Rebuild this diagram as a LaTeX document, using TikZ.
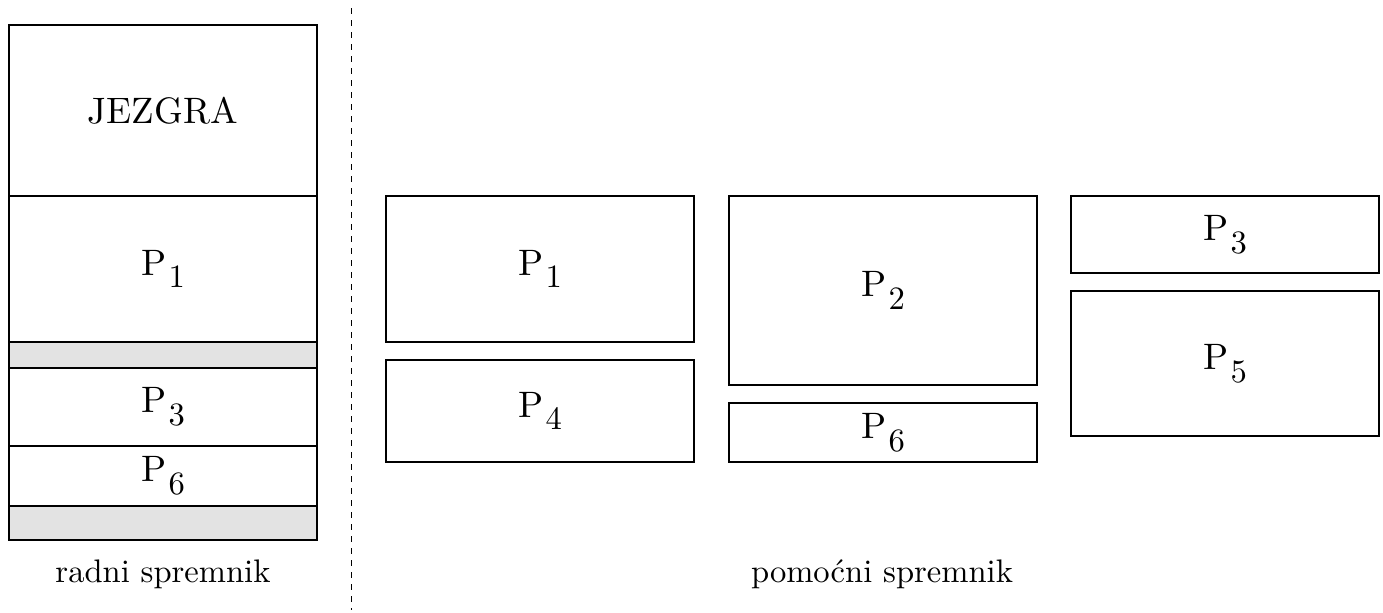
\documentclass[tikz,border=0pt]{standalone}
\newcommand\bigtxt[1]{\scalebox{1.84}{#1}}
\newcommand\captxt[1]{\scalebox{1.63}{#1}}
\newcommand\proc[1]{\bigtxt{P}\kern1.2pt\raisebox{-6.3pt}{\captxt{#1}}}
\begin{document}
\begin{tikzpicture}[x=0.5pt,y=-0.5pt,
  mem/.style={draw=black, line width=0.75pt, fill=white, anchor=north west, inner sep=0pt, outer sep=0pt, minimum width=154pt},
  freebox/.style={mem, fill=black!11},
  caption/.style={inner sep=0pt}]
\useasboundingbox (0,0) rectangle (1383,612);
% working memory column
\node[mem, minimum height=85.5pt] (jez) at (9,25) {\bigtxt{JEZGRA}};
\node[mem, minimum height=73pt] (wp1) at (9,196) {\proc{1}};
\node[freebox, minimum height=13pt] (gap1) at (9,342) {};
\node[mem, minimum height=39pt] (wp3) at (9,368) {\proc{3}};
\node[mem, minimum height=30pt] (wp6) at (9,446) {\proc{6}};
\node[freebox, minimum height=17pt] (gap2) at (9,506) {};
\node[caption] (radni) at (163,574) {\captxt{radni spremnik}};
% separator
\coordinate (s1) at (351,8);
\coordinate (s2) at (351,610);
\draw[dashed, line width=0.5pt] (s1) -- (s2);
% auxiliary memory
\node[mem, minimum height=73pt] (ap1) at (386,196) {\proc{1}};
\node[mem, minimum height=51pt] (ap4) at (386,360) {\proc{4}};
\node[mem, minimum height=94.5pt] (ap2) at (729,196) {\proc{2}};
\node[mem, minimum height=29.5pt] (ap6) at (729,403) {\proc{6}};
\node[mem, minimum height=38.5pt] (ap3) at (1071,196) {\proc{3}};
\node[mem, minimum height=72.5pt] (ap5) at (1071,291) {\proc{5}};
\node[caption] (pomocni) at (882,574) {\captxt{pomoćni spremnik}};
\end{tikzpicture}
\end{document}
